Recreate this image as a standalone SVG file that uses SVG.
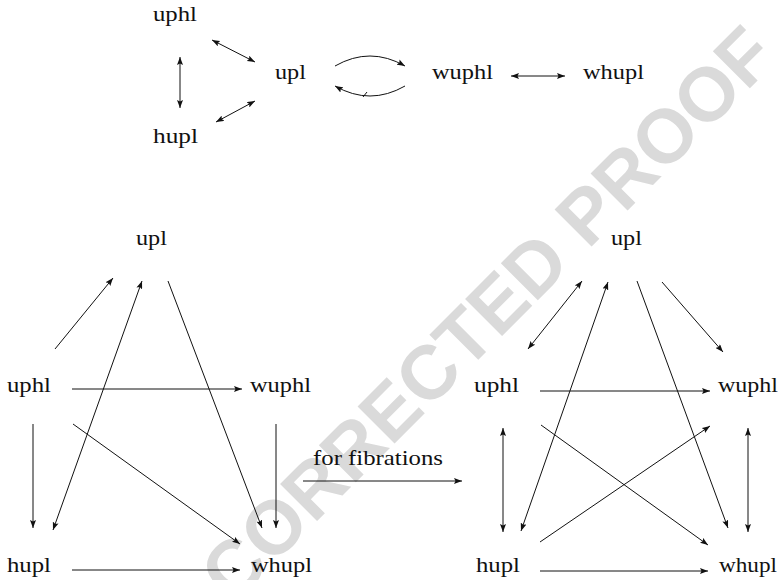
<svg xmlns="http://www.w3.org/2000/svg" width="779" height="580" viewBox="0 0 779 580">
<style>
.lbl{font-family:'Liberation Serif','DejaVu Serif',serif;font-size:22px;fill:#111}
.e{stroke:#111;stroke-width:1;fill:none}
.wm{font-family:'Liberation Sans','DejaVu Sans',sans-serif;font-weight:bold;font-size:76px;fill:#dadada}
</style>
<defs>
<marker id="ah" viewBox="0 0 8 6" refX="8" refY="3" markerWidth="8" markerHeight="6" markerUnits="userSpaceOnUse" orient="auto-start-reverse">
<path d="M0,0 L8,3 L0,6 L1.5,3 Z" fill="#111"/>
</marker>
</defs>
<rect width="779" height="580" fill="#fff"/>
<text class="wm" transform="translate(506,332) rotate(-45)" text-anchor="middle">CORRECTED PROOF</text>

<g id="connectors">
<line class="e" x1="180" y1="57" x2="180" y2="108" marker-start="url(#ah)" marker-end="url(#ah)"/>
<line class="e" x1="212" y1="40" x2="255" y2="62" marker-start="url(#ah)" marker-end="url(#ah)"/>
<line class="e" x1="216" y1="122" x2="255" y2="101" marker-start="url(#ah)" marker-end="url(#ah)"/>
<path class="e" d="M335,66 Q370,46 405,66" marker-end="url(#ah)"/>
<path class="e" d="M405,86 Q370,106 335,86" marker-end="url(#ah)"/>
<line class="e" x1="363" y1="97" x2="367" y2="92"/>
<line class="e" x1="511" y1="76" x2="565" y2="76" marker-start="url(#ah)" marker-end="url(#ah)"/>
<line class="e" x1="55" y1="349" x2="113" y2="278" marker-end="url(#ah)"/>
<line class="e" x1="53" y1="530" x2="142" y2="281" marker-start="url(#ah)" marker-end="url(#ah)"/>
<line class="e" x1="168" y1="281" x2="262" y2="528" marker-end="url(#ah)"/>
<line class="e" x1="72" y1="389" x2="242" y2="389" marker-end="url(#ah)"/>
<line class="e" x1="33" y1="424" x2="33" y2="528" marker-end="url(#ah)"/>
<line class="e" x1="276" y1="424" x2="276" y2="528" marker-end="url(#ah)"/>
<line class="e" x1="73" y1="424" x2="240" y2="544" marker-end="url(#ah)"/>
<line class="e" x1="72" y1="570" x2="240" y2="570" marker-end="url(#ah)"/>
<line class="e" x1="303" y1="481" x2="462" y2="481" marker-end="url(#ah)"/>
<line class="e" x1="582" y1="281" x2="528" y2="349" marker-start="url(#ah)" marker-end="url(#ah)"/>
<line class="e" x1="608" y1="282" x2="521" y2="531" marker-start="url(#ah)" marker-end="url(#ah)"/>
<line class="e" x1="637" y1="281" x2="728" y2="528" marker-end="url(#ah)"/>
<line class="e" x1="662" y1="282" x2="723" y2="352" marker-end="url(#ah)"/>
<line class="e" x1="540" y1="391" x2="710" y2="391" marker-end="url(#ah)"/>
<line class="e" x1="503" y1="428" x2="503" y2="532" marker-start="url(#ah)" marker-end="url(#ah)"/>
<line class="e" x1="748" y1="428" x2="748" y2="532" marker-start="url(#ah)" marker-end="url(#ah)"/>
<line class="e" x1="541" y1="425" x2="708" y2="545" marker-end="url(#ah)"/>
<line class="e" x1="540" y1="542" x2="710" y2="426" marker-end="url(#ah)"/>
<line class="e" x1="540" y1="571" x2="708" y2="571" marker-end="url(#ah)"/>
</g>

<g id="t-uphl"><text class="lbl" x="153" y="21" textLength="44" lengthAdjust="spacingAndGlyphs">uphl</text></g>
<g id="t-hupl"><text class="lbl" x="153" y="143" textLength="45" lengthAdjust="spacingAndGlyphs">hupl</text></g>
<g id="t-upl"><text class="lbl" x="275" y="79" textLength="31" lengthAdjust="spacingAndGlyphs">upl</text></g>
<g id="t-wuphl"><text class="lbl" x="432" y="79" textLength="61" lengthAdjust="spacingAndGlyphs">wuphl</text></g>
<g id="t-whupl"><text class="lbl" x="583" y="79" textLength="61" lengthAdjust="spacingAndGlyphs">whupl</text></g>

<g id="l-upl"><text class="lbl" x="136" y="245" textLength="31" lengthAdjust="spacingAndGlyphs">upl</text></g>
<g id="l-uphl"><text class="lbl" x="7" y="392" textLength="44" lengthAdjust="spacingAndGlyphs">uphl</text></g>
<g id="l-wuphl"><text class="lbl" x="250" y="392" textLength="61" lengthAdjust="spacingAndGlyphs">wuphl</text></g>
<g id="l-hupl"><text class="lbl" x="7" y="572" textLength="44" lengthAdjust="spacingAndGlyphs">hupl</text></g>
<g id="l-whupl"><text class="lbl" x="251" y="572" textLength="61" lengthAdjust="spacingAndGlyphs">whupl</text></g>

<g id="functor-label"><text class="lbl" x="313" y="465" textLength="130" lengthAdjust="spacingAndGlyphs">for fibrations</text></g>

<g id="r-upl"><text class="lbl" x="611" y="245" textLength="31" lengthAdjust="spacingAndGlyphs">upl</text></g>
<g id="r-uphl"><text class="lbl" x="474" y="392" textLength="45" lengthAdjust="spacingAndGlyphs">uphl</text></g>
<g id="r-wuphl"><text class="lbl" x="718" y="392" textLength="60" lengthAdjust="spacingAndGlyphs">wuphl</text></g>
<g id="r-hupl"><text class="lbl" x="476" y="572" textLength="44" lengthAdjust="spacingAndGlyphs">hupl</text></g>
<g id="r-whupl"><text class="lbl" x="719" y="572" textLength="58" lengthAdjust="spacingAndGlyphs">whupl</text></g>
</svg>
